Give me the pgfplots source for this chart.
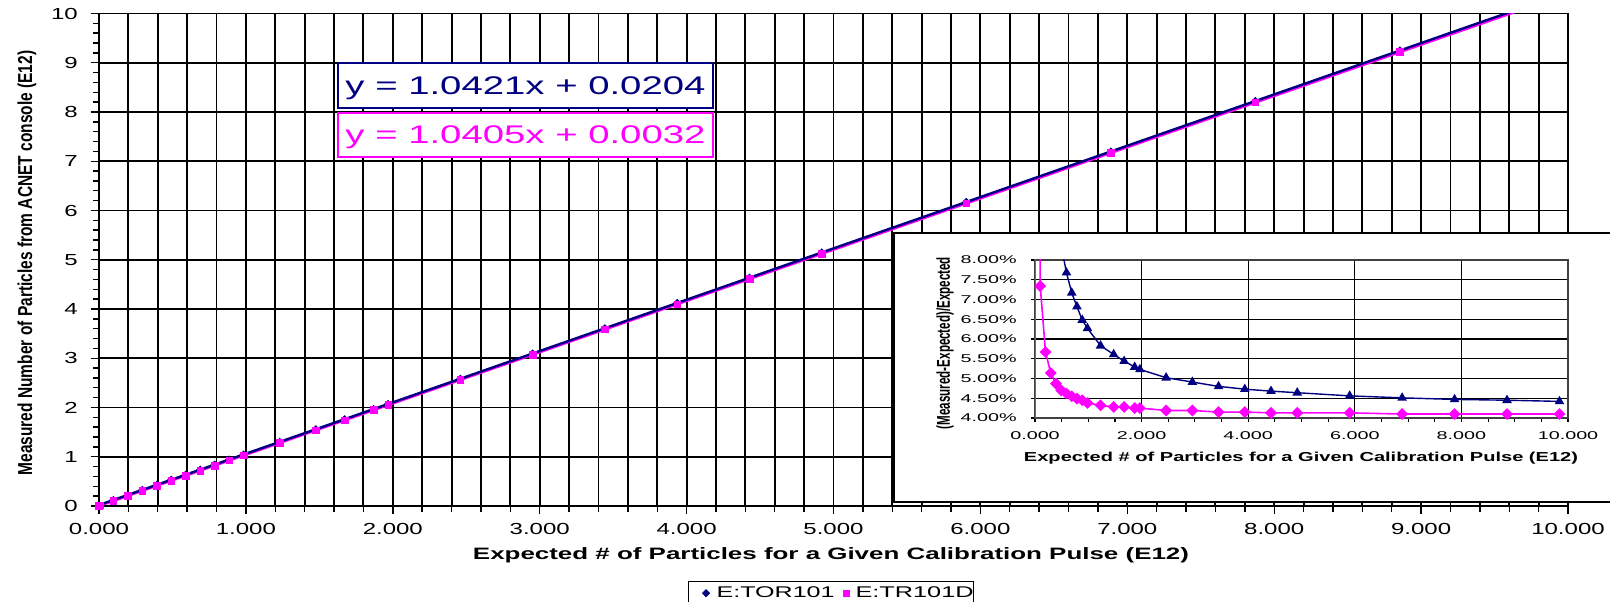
\documentclass[border=0pt]{standalone}
\usepackage{pgfplots}
\pgfplotsset{compat=1.18}
\usepackage{graphicx}
\usepackage{fontspec}
\setmainfont{Liberation Sans}

\definecolor{torblue}{RGB}{0,0,128}
\definecolor{trmag}{RGB}{255,0,255}

\pgfplotsset{
  /pgf/number format/assume math mode=true,
  legimgA/.style={legend image code/.code={\path (-17pt,0pt) (10pt,0pt); \draw[##1] plot coordinates {(0pt,0pt)};}},
  legimgB/.style={legend image code/.code={\path (-11pt,0pt) (9pt,0pt); \draw[##1] plot coordinates {(0pt,0pt)};}},
}

\begin{document}
\begin{tikzpicture}[x=1pt,y=1pt]
\path[use as bounding box] (0,0) rectangle (1610,602);

% ---------------- main calibration plot ----------------
\begin{axis}[
  at={(99pt,96pt)}, anchor=south west,
  scale only axis, width=1469pt, height=492.5pt,
  xmin=0, xmax=10, ymin=0, ymax=10,
  xtick={0,1,...,10}, ytick={0,1,...,10},
  minor x tick num=4, minor y tick num=4,
  xmajorgrids, xminorgrids, ymajorgrids,
  grid style={black, line width=1.9pt},
  minor grid style={black, line width=1.9pt},
  axis line style={black, line width=1.9pt},
  tick style={black, line width=1.4pt},
  tick align=outside, major tick length=8pt, minor tick length=6pt,
  tick pos=left,
  xticklabel={\scalebox{1.5}[1]{\pgfmathprintnumber[fixed,fixed zerofill,precision=3]{\tick}}},
  yticklabel={\scalebox{1.5}[1]{\pgfmathprintnumber{\tick}}},
  ticklabel style={font=\fontsize{16}{18}\selectfont, inner sep=0pt},
  xticklabel style={anchor=north},
  yticklabel style={anchor=east},
  xticklabel shift=9pt, yticklabel shift=13pt,
  legend columns=2,
  legend cell align=left,
  legend style={at={(axis description cs:0.401,-0.1523)}, anchor=north west,
    draw=black, line width=1pt, fill=white, inner xsep=0pt, inner ysep=5.5pt,
    column sep=0pt, nodes={inner sep=0pt},
    font=\fontsize{15.5}{17}\selectfont},
]
% E:TOR101 measured vs expected
\addplot[only marks, mark=square*, mark size=2.6pt, color=torblue,
  mark options={rotate=45, line width=0.5pt}, legimgA]
coordinates {
(0,0) (0.098,0.1225) (0.197,0.2257) (0.295,0.3278) (0.394,0.4310) (0.492,0.5331)
(0.590,0.6353) (0.689,0.7384) (0.787,0.8407) (0.886,0.9434) (0.984,1.0457)
(1.230,1.3017) (1.476,1.5588) (1.672,1.7630) (1.870,1.9689) (1.968,2.0709)
(2.460,2.5835) (2.952,3.0969) (3.444,3.6093) (3.936,4.1222) (4.428,4.6352)
(4.920,5.1483) (5.904,6.1732) (6.888,7.1986) (7.872,8.2239) (8.856,9.2501)
(9.840,10.2749)
};
\addlegendentry{\resizebox{118pt}{\height}{E:TOR101}}
% E:TR101D measured vs expected
\addplot[only marks, mark=square*, mark size=3.3pt, color=trmag,
  mark options={line width=0.5pt}, legimgB]
coordinates {
(0,0) (0.0098,0.0130) (0.098,0.1052) (0.197,0.2082) (0.295,0.3102) (0.394,0.4132)
(0.492,0.5151) (0.590,0.6173) (0.689,0.7203) (0.787,0.8223) (0.886,0.9254)
(0.984,1.0271) (1.230,1.2831) (1.476,1.5392) (1.672,1.7436) (1.870,1.9495)
(1.968,2.0516) (2.460,2.5631) (2.952,3.0757) (3.444,3.5869) (3.936,4.0993)
(4.428,4.6109) (4.920,5.1232) (5.904,6.1478) (6.888,7.1704) (7.872,8.1948)
(8.856,9.2191) (9.840,10.2434)
};
\addlegendentry{\resizebox{118pt}{\height}{E:TR101D}}
% linear trendlines: y = 1.0405x + 0.0032 and y = 1.0421x + 0.0204
\addplot[forget plot, trmag, line width=2.6pt] coordinates {(0,0.0032) (9.84,10.2417)};
\addplot[forget plot, torblue, line width=2.4pt] coordinates {(0,0.0204) (9.84,10.2747)};
\end{axis}

% axis titles
\node[anchor=base] at (831pt,42pt)
  {\resizebox{716pt}{\height}{\bfseries\fontsize{16.5}{18}\selectfont Expected \# of Particles for a Given Calibration Pulse (E12)}};
\node[rotate=90] at (27pt,339pt)
  {\scalebox{1}[1.3]{\bfseries\fontsize{15.5}{17}\selectfont Measured Number of Particles from ACNET console (E12)}};

% trendline equations
\node[draw=torblue, line width=1.5pt, fill=white, minimum width=375pt, minimum height=45pt,
  inner sep=0pt, text=torblue, text height=18pt, text depth=0pt, font=\fontsize{25.5}{28}\selectfont]
  at (525.5pt,516.5pt) {\resizebox{360pt}{\height}{y = 1.0421x + 0.0204}};
\node[draw=trmag, line width=1.5pt, fill=white, minimum width=375pt, minimum height=44pt,
  inner sep=0pt, text=trmag, text height=18pt, text depth=0pt, font=\fontsize{25.5}{28}\selectfont]
  at (525.5pt,467pt) {\resizebox{360pt}{\height}{y = 1.0405x + 0.0032}};

% ---------------- relative deviation inset ----------------
\draw[black, line width=1.5pt, fill=white] (894pt,100pt) rectangle (1630pt,369pt);
\begin{axis}[
  at={(1035pt,184pt)}, anchor=south west,
  scale only axis, width=533pt, height=158pt,
  xmin=0, xmax=10, ymin=4, ymax=8,
  xtick={0,2,...,10}, ytick={4,4.5,...,8},
  minor x tick num=3,
  grid=major, grid style={black, line width=1.3pt},
  axis line style={black!75, line width=1.8pt},
  tick style={black, line width=1.1pt},
  tick align=outside, major tick length=4pt, minor tick length=4pt,
  tick pos=left,
  xticklabel={\scalebox{1.75}[1]{\pgfmathprintnumber[fixed,fixed zerofill,precision=3]{\tick}}},
  yticklabel={\scalebox{1.75}[1]{\pgfmathprintnumber[fixed,fixed zerofill,precision=2]{\tick}\%}},
  ticklabel style={font=\fontsize{11.3}{13}\selectfont, inner sep=0pt},
  xticklabel style={anchor=north},
  yticklabel style={anchor=east},
  xticklabel shift=9pt, yticklabel shift=14pt,
]
% (measured - expected)/expected in percent, E:TOR101
\addplot[torblue, line width=1.4pt, mark=triangle*, mark size=4.2pt]
coordinates {
(0.098,25.00) (0.197,14.57) (0.295,11.12) (0.394,9.39) (0.492,8.36)
(0.590,7.68) (0.689,7.17) (0.787,6.82) (0.886,6.48) (0.984,6.27)
(1.230,5.83) (1.476,5.61) (1.672,5.44) (1.870,5.29) (1.968,5.23)
(2.460,5.02) (2.952,4.91) (3.444,4.80) (3.936,4.73) (4.428,4.68)
(4.920,4.64) (5.904,4.56) (6.888,4.51) (7.872,4.47) (8.856,4.45)
(9.840,4.42)
};
% (measured - expected)/expected in percent, E:TR101D
\addplot[trmag, line width=1.6pt, mark=square*, mark size=3.4pt, mark options={rotate=45}]
coordinates {
(0,0) (0.0098,33.0) (0.098,7.34) (0.197,5.67) (0.295,5.14) (0.394,4.87)
(0.492,4.70) (0.590,4.62) (0.689,4.55) (0.787,4.49) (0.886,4.45)
(0.984,4.38) (1.230,4.32) (1.476,4.28) (1.672,4.28) (1.870,4.25)
(1.968,4.25) (2.460,4.19) (2.952,4.19) (3.444,4.15) (3.936,4.15)
(4.428,4.13) (4.920,4.13) (5.904,4.13) (6.888,4.10) (7.872,4.10)
(8.856,4.10) (9.840,4.10)
};
\end{axis}
\node[anchor=base] at (1301pt,140.5pt)
  {\resizebox{554pt}{\height}{\bfseries\fontsize{13}{15}\selectfont Expected \# of Particles for a Given Calibration Pulse (E12)}};
\node[rotate=90] at (945pt,259pt)
  {\scalebox{1}[1.6]{\bfseries\fontsize{11.6}{13}\selectfont (Measured-Expected)/Expected}};
\end{tikzpicture}
\end{document}
